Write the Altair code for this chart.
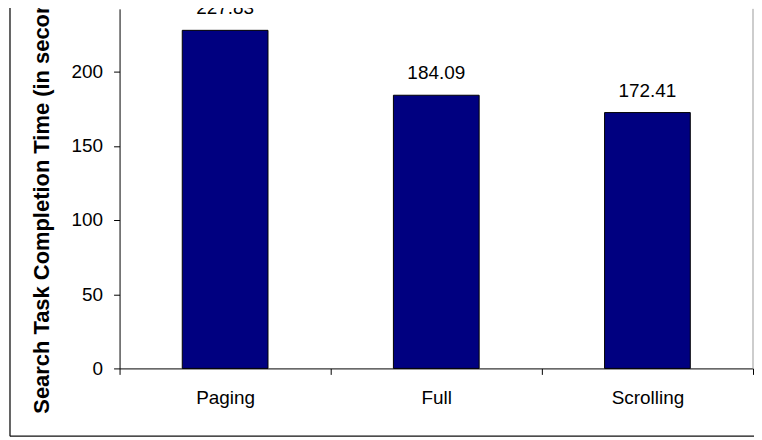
import altair as alt
import pandas as pd

categories = ["Paging", "Full", "Scrolling"]
values = [227.83, 184.09, 172.41]
y_ticks = [0, 50, 100, 150, 200]
y_title = "Search Task Completion Time (in seconds)"

df = pd.DataFrame({"cat": categories, "val": values})
one = pd.DataFrame({"d": [0]})

FONT = "Liberation Sans"

x_enc = alt.X(
    "cat:N",
    sort=categories,
    scale=alt.Scale(paddingInner=0, paddingOuter=0),
    axis=alt.Axis(
        title=None,
        labelAngle=0,
        labelFontSize=19,
        labelFont=FONT,
        labelColor="black",
        labelPadding=14,
        tickSize=6,
        tickColor="black",
        domainColor="black",
        tickBand="extent",
        grid=False,
    ),
)
y_enc = alt.Y(
    "val:Q",
    scale=alt.Scale(domain=[0, 242.3], nice=False, zero=True),
    axis=alt.Axis(
        values=y_ticks,
        title=y_title,
        titleFont=FONT,
        titleFontSize=22,
        titleFontWeight="bold",
        titleColor="black",
        titleAngle=270,
        titleAlign="left",
        titleBaseline="alphabetic",
        titleX=-71,
        titleY=406,
        labelFontSize=19,
        labelFont=FONT,
        labelColor="black",
        labelPadding=11,
        tickSize=6,
        tickColor="black",
        domainColor="black",
        grid=False,
    ),
)

bars = alt.Chart(df).mark_bar(
    color="#000080", stroke="black", strokeWidth=1,
    width=alt.RelativeBandSize(0.406),
).encode(x=x_enc, y=y_enc)

labels = alt.Chart(df).mark_text(
    baseline="alphabetic", dy=-16, fontSize=19, font=FONT, color="black"
).encode(
    x=alt.X("cat:N", sort=categories),
    y="val:Q",
    text=alt.Text("val:Q", format=".2f"),
)

right_border = alt.Chart(one).mark_rule(color="#9a9a9a", strokeWidth=1).encode(
    x=alt.value(636), y=alt.value(0), y2=alt.value(361)
)
frame_left = alt.Chart(one).mark_rule(color="#111", strokeWidth=1.3).encode(
    x=alt.value(-110), y=alt.value(-10), y2=alt.value(429)
)
frame_bottom = alt.Chart(one).mark_rule(color="#111", strokeWidth=1.3).encode(
    x=alt.value(-110), x2=alt.value(660), y=alt.value(429)
)

chart = alt.layer(bars, labels, right_border, frame_left, frame_bottom).properties(
    width=636,
    height=361,
    autosize=alt.AutoSizeParams(type="none"),
    padding={"left": 112, "top": 0, "right": 1, "bottom": 69},
    background="white",
).configure_view(stroke=None)

chart.save("out.html", embed_options={"renderer": "svg", "actions": False})
